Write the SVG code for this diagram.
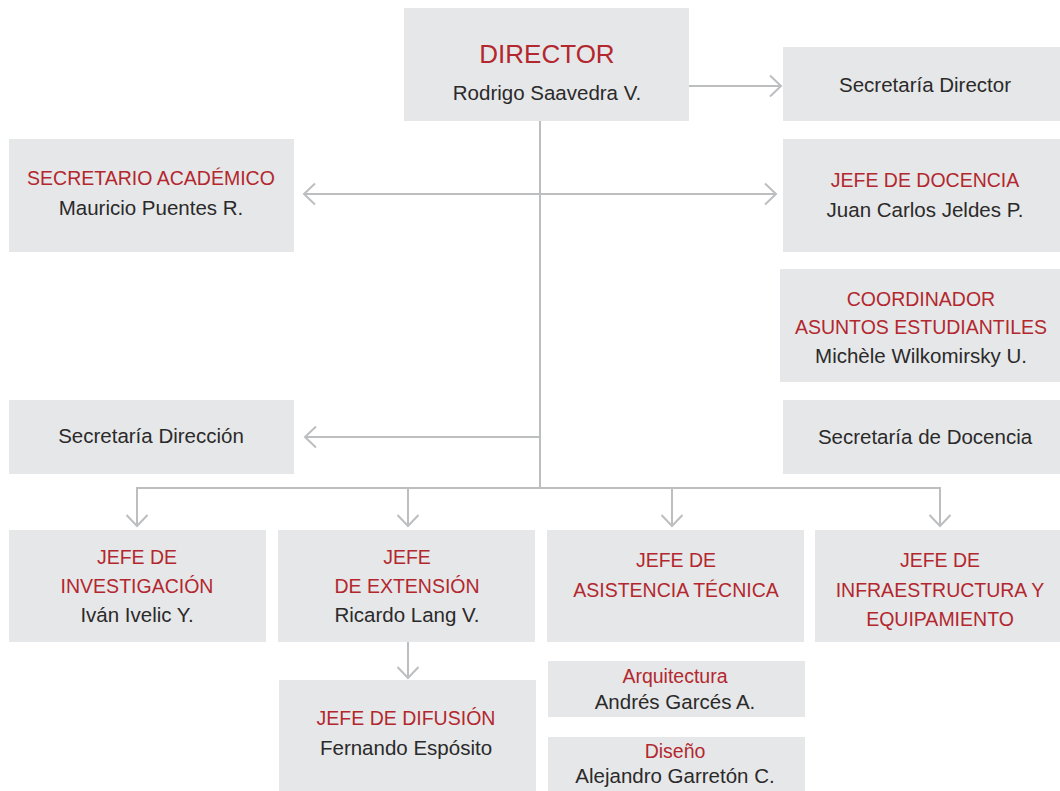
<svg xmlns="http://www.w3.org/2000/svg" width="1060" height="791" viewBox="0 0 1060 791">
<style>
.box{fill:#e6e7e8}
text{font-family:"Liberation Sans",Arial,sans-serif;text-anchor:middle}
.t{fill:#b3272f;font-size:19.5px}
.n{fill:#2b2a2a;font-size:20.5px}
.big{fill:#b3272f;font-size:26px}
.ln{stroke:#bcbec0;stroke-width:2;fill:none}
</style>
<defs>
<marker id="ah" markerUnits="userSpaceOnUse" markerWidth="14" markerHeight="24" viewBox="0 0 14 24" refX="12" refY="12" orient="auto-start-reverse">
<path d="M1,1.5 L12,12 L1,22.5" fill="none" stroke="#bcbec0" stroke-width="2"/>
</marker>
</defs>
<rect width="1060" height="791" fill="#ffffff"/>
<g id="connectors">
<line class="ln" x1="689" y1="86" x2="781" y2="86" marker-end="url(#ah)"/>
<line class="ln" x1="540" y1="121" x2="540" y2="489"/>
<line class="ln" x1="304" y1="194" x2="776" y2="194" marker-start="url(#ah)" marker-end="url(#ah)"/>
<line class="ln" x1="540" y1="437" x2="305" y2="437" marker-end="url(#ah)"/>
<line class="ln" x1="136" y1="488" x2="941" y2="488"/>
<line class="ln" x1="137" y1="488" x2="137" y2="526" marker-end="url(#ah)"/>
<line class="ln" x1="408" y1="488" x2="408" y2="526" marker-end="url(#ah)"/>
<line class="ln" x1="672" y1="488" x2="672" y2="526" marker-end="url(#ah)"/>
<line class="ln" x1="940" y1="488" x2="940" y2="526" marker-end="url(#ah)"/>
<line class="ln" x1="408" y1="642" x2="408" y2="678" marker-end="url(#ah)"/>
</g>
<g id="director">
<rect class="box" x="404" y="8" width="285" height="113"/>
<text class="big" x="547" y="63">DIRECTOR</text>
<text class="n" x="547" y="100">Rodrigo Saavedra V.</text>
</g>
<g id="secretaria-director">
<rect class="box" x="783" y="47" width="277" height="74"/>
<text class="n" x="925" y="92">Secretaría Director</text>
</g>
<g id="secretario-academico">
<rect class="box" x="9" y="139" width="285" height="113"/>
<text class="t" x="151" y="185">SECRETARIO ACADÉMICO</text>
<text class="n" x="151" y="215">Mauricio Puentes R.</text>
</g>
<g id="jefe-docencia">
<rect class="box" x="783" y="139" width="277" height="113"/>
<text class="t" x="925" y="187">JEFE DE DOCENCIA</text>
<text class="n" x="925" y="217">Juan Carlos Jeldes P.</text>
</g>
<g id="coordinador">
<rect class="box" x="780" y="269" width="280" height="113"/>
<text class="t" x="921" y="306">COORDINADOR</text>
<text class="t" x="921" y="334">ASUNTOS ESTUDIANTILES</text>
<text class="n" x="921" y="363">Michèle Wilkomirsky U.</text>
</g>
<g id="secretaria-direccion">
<rect class="box" x="9" y="400" width="285" height="74"/>
<text class="n" x="151" y="443">Secretaría Dirección</text>
</g>
<g id="secretaria-docencia">
<rect class="box" x="783" y="400" width="277" height="74"/>
<text class="n" x="925" y="444">Secretaría de Docencia</text>
</g>
<g id="jefe-investigacion">
<rect class="box" x="9" y="530" width="257" height="112"/>
<text class="t" x="137" y="564">JEFE DE</text>
<text class="t" x="137" y="593">INVESTIGACIÓN</text>
<text class="n" x="137" y="622">Iván Ivelic Y.</text>
</g>
<g id="jefe-extension">
<rect class="box" x="278" y="530" width="257" height="112"/>
<text class="t" x="407" y="564">JEFE</text>
<text class="t" x="407" y="593">DE EXTENSIÓN</text>
<text class="n" x="407" y="622">Ricardo Lang V.</text>
</g>
<g id="jefe-asistencia">
<rect class="box" x="547" y="530" width="257" height="112"/>
<text class="t" x="676" y="567">JEFE DE</text>
<text class="t" x="676" y="597">ASISTENCIA TÉCNICA</text>
</g>
<g id="jefe-infraestructura">
<rect class="box" x="815" y="530" width="245" height="112"/>
<text class="t" x="940" y="567">JEFE DE</text>
<text class="t" x="940" y="597">INFRAESTRUCTURA Y</text>
<text class="t" x="940" y="626">EQUIPAMIENTO</text>
</g>
<g id="jefe-difusion">
<rect class="box" x="279" y="680" width="257" height="111"/>
<text class="t" x="406" y="725">JEFE DE DIFUSIÓN</text>
<text class="n" x="406" y="755">Fernando Espósito</text>
</g>
<g id="arquitectura">
<rect class="box" x="548" y="661" width="257" height="56"/>
<text class="t" x="675" y="683">Arquitectura</text>
<text class="n" x="675" y="709">Andrés Garcés A.</text>
</g>
<g id="diseno">
<rect class="box" x="548" y="737" width="257" height="54"/>
<text class="t" x="675" y="758">Diseño</text>
<text class="n" x="675" y="783">Alejandro Garretón C.</text>
</g>
</svg>
